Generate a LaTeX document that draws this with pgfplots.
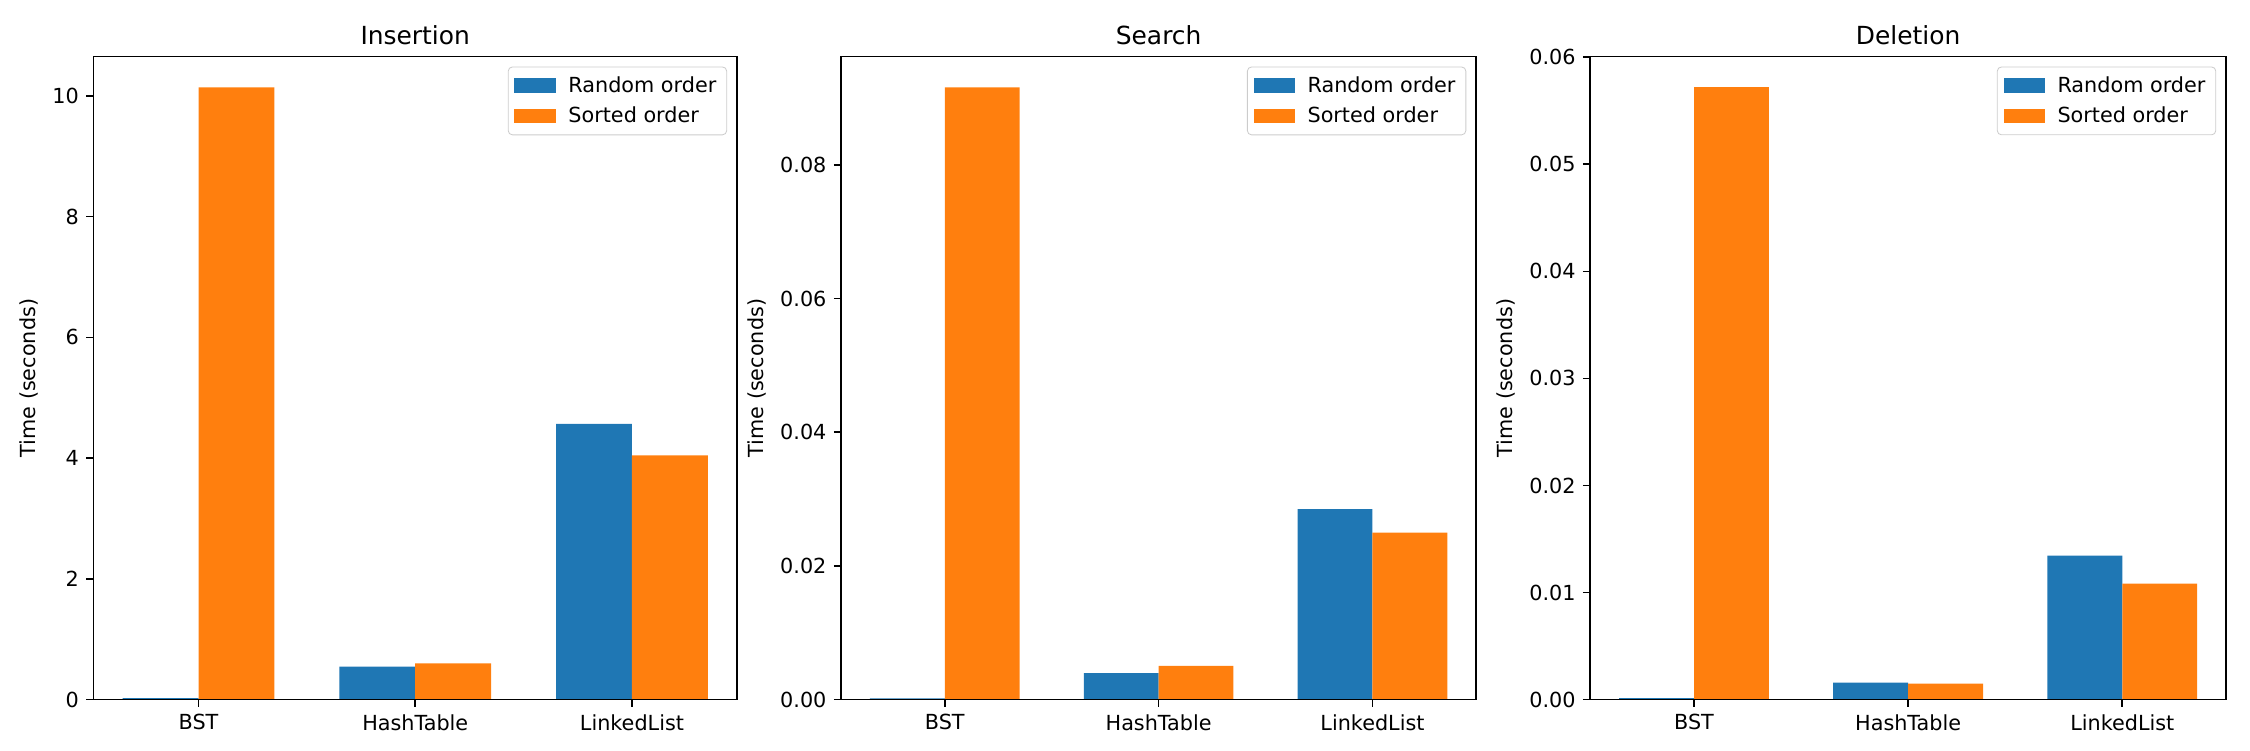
\documentclass[border=0pt]{standalone}
\usepackage{fontspec}
\setmainfont{DejaVu Sans}
\usepackage{pgfplots}
\pgfplotsset{compat=1.18}
\definecolor{c0}{HTML}{1F77B4}
\definecolor{c1}{HTML}{FF7F0E}
\pgfplotsset{
  panel/.style={
    scale only axis, height=309.8pt, anchor=south west,
    xmin=-0.485, xmax=2.485, ymin=0,
    xtick={0,1,2}, xticklabels={BST,HashTable,LinkedList},
    axis line style={line width=0.8pt, black},
    every tick/.style={line width=0.8pt, black},
    tick align=outside, major tick length=3.5pt,
    tick pos=left, axis on top,
    tick label style={font=\fontsize{10}{12}\selectfont},
    ylabel={Time (seconds)},
    label style={font=\fontsize{10}{12}\selectfont},
    title style={font=\fontsize{12}{14}\selectfont, yshift=-3.8pt},
    /pgf/number format/assume math mode=true,
    scaled y ticks=false,
    legend cell align=left,
    legend image code/.code={\fill[##1, sharp corners, fill opacity=1] (0pt,-3.5pt) rectangle (20pt,3.5pt);},
    legend style={at={(1,1)}, xshift=-4.8pt, yshift=-4.8pt, anchor=north east,
      draw=black!20, rounded corners=2pt, fill=white, fill opacity=0.8, text opacity=1,
      font=\fontsize{10}{12}\selectfont, inner xsep=3pt, inner ysep=2.5pt, row sep=1.5pt,
      /tikz/every odd column/.append style={column sep=4pt}},
  },
  rnd/.style={ybar, bar width=0.35, bar shift=-0.175, fill=c0, draw=none},
  srt/.style={ybar, bar width=0.35, bar shift=0.175, fill=c1, draw=none},
}
\begin{document}
\begin{tikzpicture}
\begin{axis}[panel, at={(45.0pt,24.28pt)}, width=310.1pt, title={Insertion},
  ymax=10.65, ytick={0,2,4,6,8,10}]
\addplot[rnd] coordinates {(0,0.024) (1,0.545) (2,4.567)};
\addplot[srt] coordinates {(0,10.14) (1,0.600) (2,4.046)};
\legend{Random order, Sorted order}
\end{axis}
\begin{axis}[panel, at={(405.2pt,24.28pt)}, width=306.0pt, title={Search},
  ymax=0.0962, ytick={0,0.02,0.04,0.06,0.08},
  yticklabel style={/pgf/number format/.cd, fixed, fixed zerofill, precision=2}]
\addplot[rnd] coordinates {(0,0.0002) (1,0.00398) (2,0.0285)};
\addplot[srt] coordinates {(0,0.0916) (1,0.00506) (2,0.0250)};
\legend{Random order, Sorted order}
\end{axis}
\begin{axis}[panel, at={(766.1pt,24.28pt)}, width=306.4pt, title={Deletion},
  ymax=0.06006, ytick={0,0.01,0.02,0.03,0.04,0.05,0.06},
  yticklabel style={/pgf/number format/.cd, fixed, fixed zerofill, precision=2}]
\addplot[rnd] coordinates {(0,0.00014) (1,0.00158) (2,0.01346)};
\addplot[srt] coordinates {(0,0.0572) (1,0.00149) (2,0.01084)};
\legend{Random order, Sorted order}
\end{axis}
\pgfresetboundingbox
\path[use as bounding box] (0,0) rectangle (1084pt,361.35pt);
\end{tikzpicture}
\end{document}
